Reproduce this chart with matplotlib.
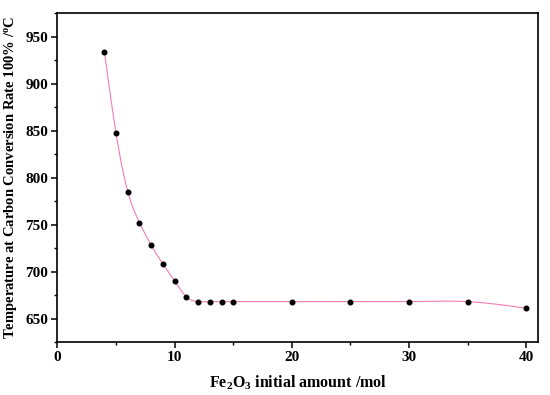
import numpy as np
import matplotlib
matplotlib.use("Agg")
import matplotlib.pyplot as plt
from matplotlib.ticker import MultipleLocator

# data
fe2o3_mol = [4, 5, 6, 7, 8, 9, 10, 11, 12, 13, 14, 15, 20, 25, 30, 35, 40]
temp_c = [934, 847, 785, 752, 728, 708, 690, 673, 668, 668, 668, 668, 668, 668, 668, 668, 661]

plt.rcParams['font.family'] = ['Liberation Serif', 'DejaVu Serif']
plt.rcParams['font.weight'] = 'bold'
plt.rcParams['mathtext.fontset'] = 'custom'
plt.rcParams['mathtext.rm'] = 'Liberation Serif:bold'
plt.rcParams['mathtext.it'] = 'Liberation Serif:bold'
plt.rcParams['mathtext.bf'] = 'Liberation Serif:bold'


def natural_spline(x, y, n=600):
    # plain natural cubic spline, only used to draw the smooth line
    x = np.asarray(x, float)
    y = np.asarray(y, float)
    k = len(x)
    h = np.diff(x)
    A = np.zeros((k, k))
    b = np.zeros(k)
    A[0, 0] = A[-1, -1] = 1
    for i in range(1, k - 1):
        A[i, i - 1] = h[i - 1]
        A[i, i] = 2 * (h[i - 1] + h[i])
        A[i, i + 1] = h[i]
        b[i] = 3 * ((y[i + 1] - y[i]) / h[i] - (y[i] - y[i - 1]) / h[i - 1])
    c = np.linalg.solve(A, b)
    xs = np.linspace(x[0], x[-1], n)
    idx = np.clip(np.searchsorted(x, xs) - 1, 0, k - 2)
    dx = xs - x[idx]
    bb = (y[idx + 1] - y[idx]) / h[idx] - h[idx] * (2 * c[idx] + c[idx + 1]) / 3
    dd = (c[idx + 1] - c[idx]) / (3 * h[idx])
    ys = y[idx] + bb * dx + c[idx] * dx ** 2 + dd * dx ** 3
    return xs, ys


fig = plt.figure(figsize=(5.5, 3.95), dpi=100)
ax = fig.add_axes([0.1045, 0.134, 0.8735, 0.833])

xs, ys = natural_spline(fe2o3_mol, temp_c)
ax.plot(xs, ys, color='#f27db3', lw=0.8, zorder=2)
ax.plot(fe2o3_mol, temp_c, 'o', color='black', ms=3.3, zorder=3)

ax.set_xlim(0, 41)
ax.set_ylim(625, 975)
ax.xaxis.set_major_locator(MultipleLocator(10))
ax.xaxis.set_minor_locator(MultipleLocator(5))
ax.yaxis.set_major_locator(MultipleLocator(50))
ax.yaxis.set_minor_locator(MultipleLocator(25))
ax.tick_params(which='major', direction='out', length=4, width=1.1, labelsize=11, pad=2.5)
ax.tick_params(which='minor', direction='out', length=2.5, width=1.0)
for lab in ax.get_xticklabels() + ax.get_yticklabels():
    lab.set_fontweight('bold')
for s in ax.spines.values():
    s.set_linewidth(1.2)

ax.set_xlabel('Fe$_2$O$_3$ initial amount /mol', fontsize=11.5, fontweight='bold', labelpad=7)
ax.set_ylabel('Temperature at Carbon Conversion Rate 100% /$^o$C', fontsize=10.5, fontweight='bold', labelpad=5)

fig.savefig('out.png', dpi=100)
